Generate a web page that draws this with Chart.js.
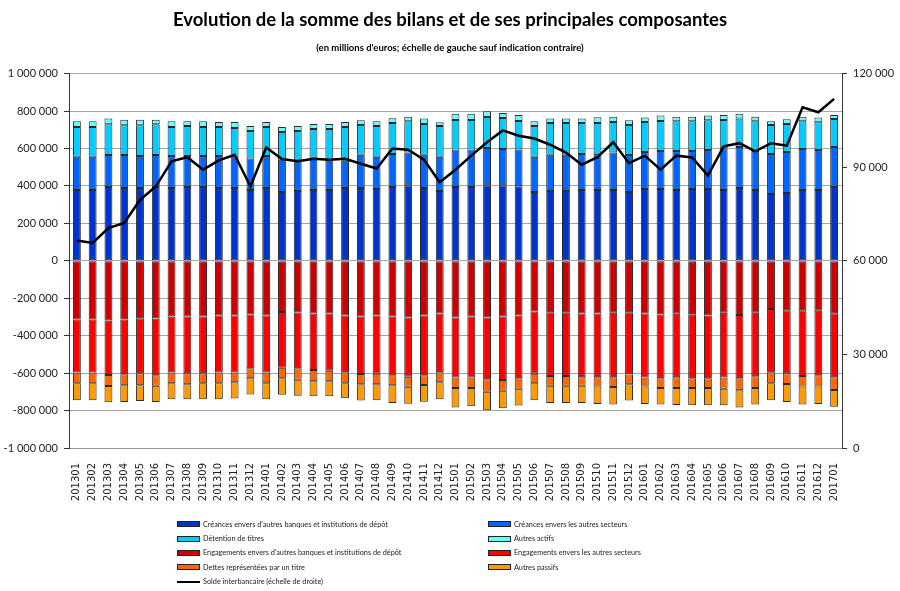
<!DOCTYPE html>
<html>
<head>
<meta charset="utf-8">
<script src="https://cdn.jsdelivr.net/npm/chart.js@4.4.1/dist/chart.umd.min.js"></script>
<style>
  html, body { margin:0; padding:0; background:#fff; }
  #wrap { position:relative; width:900px; height:591px; }
  #legend { position:absolute; left:177px; top:517px; display:grid; grid-template-columns:311px 300px; grid-auto-rows:14.4px; font:7.3px Lato, sans-serif; color:#222; }
  .item { display:flex; align-items:center; white-space:nowrap; }
  .sw { width:21px; height:4px; border:1px solid #222; margin-right:3px; }
  .ln { width:23px; height:2px; background:#000; margin-right:3px; }
</style>
</head>
<body>
<div id="wrap">
  <canvas id="c" width="900" height="591"></canvas>
  <div id="legend"></div>
</div>
<script>
const months = ['201301','201302','201303','201304','201305','201306','201307','201308','201309','201310','201311','201312',
  '201401','201402','201403','201404','201405','201406','201407','201408','201409','201410','201411','201412',
  '201501','201502','201503','201504','201505','201506','201507','201508','201509','201510','201511','201512',
  '201601','201602','201603','201604','201605','201606','201607','201608','201609','201610','201611','201612','201701'];

// actif (millions d'euros)
const creancesBanques = [378000,378000,394000,389000,389000,394000,389000,394000,394000,389000,389000,378000,
  389000,367000,373000,378000,378000,389000,389000,383000,394000,403000,389000,373000,
  394000,394000,403000,403000,398000,367000,373000,373000,378000,378000,378000,367000,
  383000,383000,378000,383000,383000,378000,389000,378000,357000,362000,378000,378000,394000];
const creancesSecteurs = [178000,178000,171000,176000,171000,171000,171000,166000,166000,171000,167000,168000,
  171000,173000,167000,168000,162000,146000,178000,173000,177000,176000,178000,183000,
  194000,194000,200000,194000,196000,189000,194000,194000,193000,194000,200000,198000,
  198000,204000,209000,204000,209000,223000,219000,209000,214000,219000,219000,214000,214000];
const detentionTitres = [159000,159000,164000,159000,164000,164000,155000,160000,155000,155000,154000,148000,
  155000,148000,154000,158000,164000,180000,159000,164000,165000,166000,164000,164000,
  164000,164000,165000,166000,153000,164000,169000,169000,165000,164000,164000,161000,
  161000,160000,158000,158000,159000,151000,152000,158000,155000,150000,148000,148000,150000];
const autresActifs = [30000,30000,31000,30000,30000,25000,30000,25000,30000,27000,32000,26000,
  27000,27000,26000,27000,27000,27000,25000,25000,25000,25000,29000,20000,
  33000,33000,31000,27000,32000,25000,24000,24000,24000,31000,28000,25000,
  23000,29000,25000,25000,25000,27000,25000,25000,19000,25000,25000,25000,21000];

// passif
const engagementsBanques = [-314000,-314000,-319000,-314000,-307000,-308000,-298000,-298000,-298000,-292000,-292000,-287000,
  -292000,-273000,-276000,-282000,-282000,-292000,-298000,-292000,-298000,-303000,-292000,-282000,
  -303000,-298000,-303000,-298000,-292000,-271000,-275000,-275000,-282000,-282000,-278000,-275000,
  -282000,-287000,-283000,-285000,-292000,-278000,-289000,-278000,-258000,-264000,-264000,-267000,-280000];
const engagementsSecteurs = [-283000,-283000,-291000,-292000,-294000,-303000,-299000,-303000,-303000,-305000,-305000,-287000,
  -305000,-298000,-298000,-301000,-305000,-303000,-307000,-312000,-314000,-317000,-319000,-314000,
  -321000,-326000,-330000,-339000,-335000,-333000,-340000,-340000,-340000,-340000,-344000,-332000,
  -342000,-340000,-339000,-342000,-335000,-346000,-339000,-339000,-337000,-337000,-351000,-344000,-342000];
const dettesTitre = [-57000,-57000,-59000,-59000,-64000,-57000,-57000,-59000,-53000,-57000,-52000,-53000,
  -57000,-57000,-61000,-61000,-57000,-59000,-55000,-55000,-53000,-53000,-53000,-53000,
  -56000,-55000,-66000,-57000,-57000,-50000,-53000,-53000,-46000,-50000,-52000,-53000,
  -48000,-52000,-57000,-52000,-52000,-59000,-64000,-62000,-59000,-57000,-57000,-61000,-68000];
const autresPassifs = [-91000,-91000,-86000,-89000,-84000,-86000,-86000,-80000,-86000,-86000,-86000,-87000,
  -86000,-87000,-86000,-80000,-80000,-80000,-86000,-86000,-94000,-91000,-89000,-91000,
  -103000,-98000,-100000,-94000,-89000,-91000,-91000,-91000,-91000,-93000,-94000,-86000,
  -93000,-89000,-91000,-93000,-93000,-89000,-91000,-89000,-91000,-96000,-96000,-93000,-89000];

// échelle de droite
const soldeInterbancaire = [66500,65700,70500,72100,79500,83800,91900,93200,89200,92200,94000,83800,
  96300,92600,91900,92700,92400,92700,91100,89600,96000,95600,92400,85200,
  89200,93700,98000,101800,100100,99200,97200,94700,90800,93200,98000,91300,
  93700,89200,93700,93100,87300,96700,97700,95100,97700,96900,109200,107600,111900];

function fmt(v){
  const s = String(Math.abs(v)).replace(/\B(?=(\d{3})+(?!\d))/g, ' ');
  return (v < 0 ? '-' : '') + s;
}

function bar(label, data, color){
  return { type:'bar', label, data, backgroundColor:color, borderColor:'#2a2a2a', borderWidth:1,
    borderSkipped:false, barPercentage:0.5, categoryPercentage:1, yAxisID:'y', order:1 };
}

const chart = new Chart(document.getElementById('c'), {
  data: {
    labels: months,
    datasets: [
      bar("Créances envers d'autres banques et institutions de dépôt", creancesBanques, '#0033cc'),
      bar('Créances envers les autres secteurs', creancesSecteurs, '#0066ff'),
      bar('Détention de titres', detentionTitres, '#00ccff'),
      bar('Autres actifs', autresActifs, '#66ffff'),
      bar("Engagements envers d'autres banques et institutions de dépôt", engagementsBanques, '#cc0000'),
      bar('Engagements envers les autres secteurs', engagementsSecteurs, '#ff0000'),
      bar('Dettes représentées par un titre', dettesTitre, '#ff6600'),
      bar('Autres passifs', autresPassifs, '#ff9900'),
      { type:'line', label:"Solde interbancaire (échelle de droite)", data:soldeInterbancaire, yAxisID:'y1',
        borderColor:'#000', borderWidth:2.5, pointRadius:0, tension:0, fill:false, order:0 }
    ]
  },
  options: {
    responsive:false,
    animation:false,
    layout:{ padding:0 },
    plugins:{
      legend:{ display:false },
      tooltip:{ enabled:false },
      title:{ display:true, text:'Evolution de la somme des bilans et de ses principales composantes',
        font:{ family:'Lato', size:18.5, weight:'bold' }, color:'#000', padding:{ top:9, bottom:11 } },
      subtitle:{ display:true, text:"(en millions d'euros; échelle de gauche sauf indication contraire)",
        font:{ family:'Lato', size:9.5, weight:'bold' }, color:'#000', padding:{ top:0, bottom:20 } }
    },
    scales:{
      x:{
        stacked:true,
        grid:{ display:false },
        border:{ display:true, color:'#999' },
        ticks:{ autoSkip:false, minRotation:90, maxRotation:90, padding:7, color:'#222',
          font:{ family:'DejaVu Sans', size:10 } },
        afterFit(s){ s.height = 143; }
      },
      y:{
        stacked:true, position:'left', min:-1000000, max:1000000,
        grid:{ color:'#a6a6a6', tickColor:'#333', tickLength:5 },
        border:{ display:true, color:'#333' },
        ticks:{ stepSize:200000, padding:6, color:'#222', font:{ family:'Lato', size:11 }, callback:v => fmt(v) },
        afterFit(s){ s.width = 69; }
      },
      y1:{
        stacked:false, position:'right', min:0, max:120000,
        grid:{ drawOnChartArea:false, tickColor:'#333', tickLength:5 },
        border:{ display:true, color:'#333' },
        ticks:{ stepSize:30000, padding:6, color:'#222', font:{ family:'Lato', size:11 }, callback:v => fmt(v) },
        afterFit(s){ s.width = 58; }
      }
    }
  }
});

// légende sur deux colonnes
const lg = document.getElementById('legend');
chart.data.datasets.forEach(ds => {
  const item = document.createElement('div');
  item.className = 'item';
  const sw = document.createElement('span');
  if (ds.type === 'line') { sw.className = 'ln'; }
  else { sw.className = 'sw'; sw.style.background = ds.backgroundColor; }
  item.appendChild(sw);
  item.appendChild(document.createTextNode(ds.label));
  lg.appendChild(item);
});
</script>
</body>
</html>
